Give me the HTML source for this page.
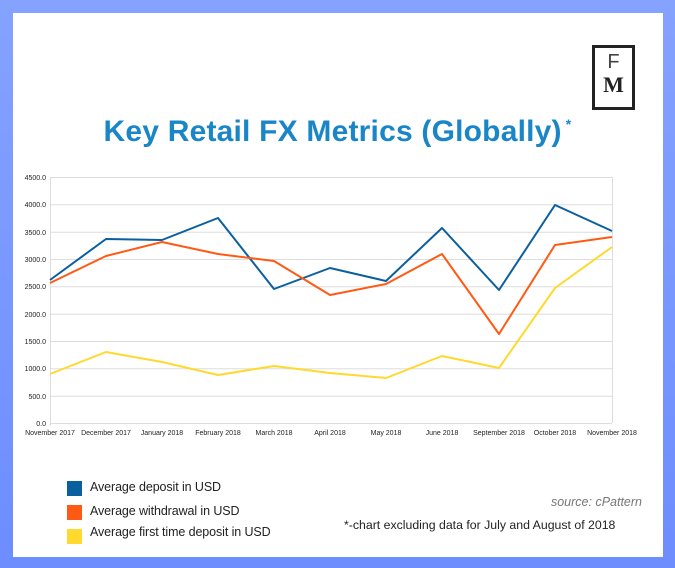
<!DOCTYPE html>
<html><head><style>
html,body{margin:0;padding:0}
body{width:675px;height:568px;background:linear-gradient(#85a2ff,#6d8dff);position:relative;font-family:"Liberation Sans",sans-serif;overflow:hidden}
.card{position:absolute;left:13px;top:13px;width:650px;height:544px;background:#fff}
.logo{position:absolute;left:592px;top:45px;width:37px;height:59px;border:3px solid #222;text-align:center;font-family:"Liberation Serif",serif}
.title{position:absolute;left:0;width:675px;top:115px;text-align:center;color:#1a86c8;font-weight:bold;font-size:30px;font-family:"Liberation Sans",sans-serif;letter-spacing:0.2px}
.leg{position:absolute;left:67px;width:15px;height:15px}
.lt{position:absolute;left:90px;font-size:12.5px;color:#222;letter-spacing:-0.1px}
</style></head><body>
<div class="card"></div>
<div class="logo"><div style="font-size:20px;line-height:22px;margin-top:3px;font-family:'Liberation Sans',sans-serif;color:#444">F</div><div style="font-size:22px;font-weight:bold;line-height:24px;color:#222">M</div></div>
<div class="title">Key Retail FX Metrics (Globally)<sup style="font-size:14px;vertical-align:12px"> *</sup></div>
<svg width="675" height="568" style="position:absolute;left:0;top:0" font-family="Liberation Sans" font-size="7" fill="#222">
<g stroke="#ddd" stroke-width="1">
<line x1="50" x2="612" y1="177.5" y2="177.5"/><line x1="50" x2="612" y1="204.8" y2="204.8"/><line x1="50" x2="612" y1="232.2" y2="232.2"/><line x1="50" x2="612" y1="259.5" y2="259.5"/><line x1="50" x2="612" y1="286.8" y2="286.8"/><line x1="50" x2="612" y1="314.2" y2="314.2"/><line x1="50" x2="612" y1="341.5" y2="341.5"/><line x1="50" x2="612" y1="368.8" y2="368.8"/><line x1="50" x2="612" y1="396.2" y2="396.2"/><line x1="50" x2="612" y1="423.5" y2="423.5"/>
<line x1="50.5" x2="50.5" y1="177" y2="426"/><line x1="612.5" x2="612.5" y1="177" y2="423"/>
</g>
<g text-anchor="end">
<text x="46" y="180">4500.0</text><text x="46" y="207">4000.0</text><text x="46" y="235">3500.0</text><text x="46" y="262">3000.0</text><text x="46" y="289">2500.0</text><text x="46" y="317">2000.0</text><text x="46" y="344">1500.0</text><text x="46" y="371">1000.0</text><text x="46" y="399">500.0</text><text x="46" y="426">0.0</text>
</g>
<g text-anchor="middle">
<text x="50" y="435">November 2017</text><text x="106" y="435">December 2017</text><text x="162" y="435">January 2018</text><text x="218" y="435">February 2018</text><text x="274" y="435">March 2018</text><text x="330" y="435">April 2018</text><text x="386" y="435">May 2018</text><text x="442" y="435">June 2018</text><text x="499" y="435">September 2018</text><text x="555" y="435">October 2018</text><text x="612" y="435">November 2018</text>
</g>
<g fill="none" stroke-width="2" stroke-linejoin="round">
<polyline stroke="#0a5f9e" points="50,280 106,239 162,240 218,218 274,289 330,268 386,281 442,228 499,290 555,205 612,231"/>
<polyline stroke="#ff5a14" points="50,283 106,256 162,242 218,254 274,261 330,295 386,284 442,254 499,334 555,245 612,237"/>
<polyline stroke="#ffd92e" points="50,374 106,352 162,362 218,375 274,366 330,373 386,378 442,356 499,368 555,288 612,247"/>
</g>
</svg>
<div class="leg" style="top:481px;background:#0a5f9e"></div><div class="lt" style="top:480px">Average deposit in USD</div>
<div class="leg" style="top:505px;background:#ff5a14"></div><div class="lt" style="top:504px">Average withdrawal in USD</div>
<div class="leg" style="top:529px;background:#ffd92e"></div><div class="lt" style="top:525px">Average first time deposit in USD</div>
<div style="position:absolute;right:33px;top:495px;font-size:12.5px;font-style:italic;color:#777">source: cPattern</div>
<div style="position:absolute;left:344px;top:518px;font-size:12.3px;color:#222">*-chart excluding data for July and August of 2018</div>
</body></html>
